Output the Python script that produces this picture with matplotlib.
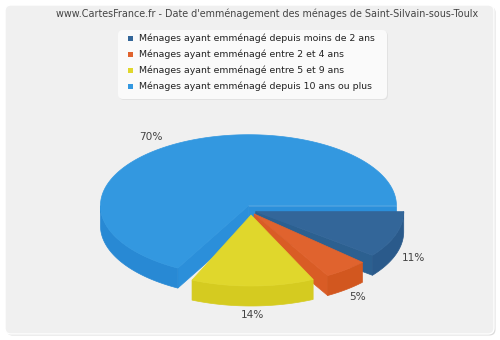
import matplotlib
matplotlib.use("Agg")
import matplotlib.pyplot as plt
import numpy as np
from matplotlib.patches import Polygon, FancyBboxPatch, Rectangle

#---------------------------------- data ----------------------------------
title = "www.CartesFrance.fr - Date d'emménagement des ménages de Saint-Silvain-sous-Toulx"
categories = ["Ménages ayant emménagé depuis moins de 2 ans",
              "Ménages ayant emménagé entre 2 et 4 ans",
              "Ménages ayant emménagé entre 5 et 9 ans",
              "Ménages ayant emménagé depuis 10 ans ou plus"]
values = [11, 5, 14, 70]
labels = ["11%", "5%", "14%", "70%"]

# top / side colours per slice
top_colors = ["#336699", "#e0632e", "#e0d72c", "#3398e0"]
side_colors = ["#2a5a8b", "#d2571f", "#d5cb20", "#2889d4"]
cut_colors = ["#2c6090", "#d95c25", "#d9cf25", "#2b8fda"]

#---------------------------------- geometry (pixels) ---------------------
CX, CY = 251, 210
RX, RY = 148, 71
DEPTH = 20
EXPLODE = 5
GAP = 5.0        # angular gap between consecutive slices (deg)
LABEL_K = 1.13

fig = plt.figure(figsize=(5, 3.4), dpi=100)
fig.patch.set_facecolor("white")
ax = fig.add_axes([0, 0, 1, 1])
ax.set_xlim(0, 500)
ax.set_ylim(340, 0)
ax.axis("off")

# frame
ax.add_patch(FancyBboxPatch((6.5, 6.5), 489, 329, boxstyle="round,pad=0,rounding_size=6",
                            fc="#dcdcdc", ec="none"))
ax.add_patch(FancyBboxPatch((5, 5), 489, 329, boxstyle="round,pad=0,rounding_size=6",
                            fc="#f0f0f0", ec="#ffffff", lw=1))

ax.text(267, 14, title, ha="center", va="center", fontsize=6.95, color="#444444")

# legend
ax.add_patch(FancyBboxPatch((119, 31), 269, 69, boxstyle="round,pad=0,rounding_size=5",
                            fc="#e2e2e2", ec="none"))
ax.add_patch(FancyBboxPatch((118, 30), 269, 69, boxstyle="round,pad=0,rounding_size=5",
                            fc="#fafafa", ec="none"))
for i, (name, col) in enumerate(zip(categories, top_colors)):
    y = 38.5 + i * 16
    ax.add_patch(Rectangle((127.5, y - 2.5), 5, 5, fc=col, ec="none"))
    ax.text(139, y, name, ha="left", va="center", fontsize=6.75, color="#222222")


def rim(cx, cy, ts, dz=0.0):
    r = np.radians(ts)
    return np.column_stack([cx + RX * np.cos(r), cy - RY * np.sin(r) + dz])


# slice angles (clockwise from 3 o'clock), gaps between consecutive slices
sweep = 360 - GAP * (len(values) - 1)
his, los = [], []
a = 0.0
for v in values:
    his.append(a)
    a -= v / sum(values) * sweep
    los.append(a)
    a -= GAP
his = np.array(his)
los = np.array(los)
mids = (his + los) / 2

order = np.argsort(-np.sin(np.radians(mids)))
for i in order:
    hi, lo, m = his[i], los[i], mids[i]
    cx = CX + EXPLODE * np.cos(np.radians(m))
    cy = CY - EXPLODE * np.sin(np.radians(m))

    # radial cut faces
    for ang, nrm in ((hi, hi + 90), (lo, lo - 90)):
        if np.sin(np.radians(nrm)) < -1e-6:
            p = rim(cx, cy, [ang])[0]
            quad = [(cx, cy), tuple(p), (p[0], p[1] + DEPTH), (cx, cy + DEPTH)]
            ax.add_patch(Polygon(quad, closed=True, fc=cut_colors[i], ec=cut_colors[i], lw=0.5))

    # outer wall on front half
    for k in (0, -1):
        a0 = max(lo, -180 + 360 * k)
        a1 = min(hi, 0 + 360 * k)
        if a1 - a0 > 0.1:
            ts = np.linspace(a0, a1, 80)
            top = rim(cx, cy, ts)
            bot = rim(cx, cy, ts[::-1], DEPTH)
            ax.add_patch(Polygon(np.vstack([top, bot]), closed=True,
                                 fc=side_colors[i], ec=side_colors[i], lw=0.5))

    # top face
    ts = np.linspace(lo, hi, 200)
    pts = np.vstack([[cx, cy], rim(cx, cy, ts)])
    ax.add_patch(Polygon(pts, closed=True, fc=top_colors[i], ec=top_colors[i], lw=0.5))

# percentage labels
for i in range(len(values)):
    m = np.radians(mids[i])
    cx = CX + EXPLODE * np.cos(m)
    cy = CY - EXPLODE * np.sin(m)
    lx = cx + RX * LABEL_K * np.cos(m)
    ly = cy - RY * LABEL_K * np.sin(m) + (DEPTH if np.sin(m) < 0 else 0)
    ha = "right" if np.cos(m) < -0.3 else "center"
    ax.text(lx, ly, labels[i], ha=ha, va="center", fontsize=7.6, color="#444444")

fig.savefig("out.png", dpi=100, facecolor=fig.get_facecolor())
